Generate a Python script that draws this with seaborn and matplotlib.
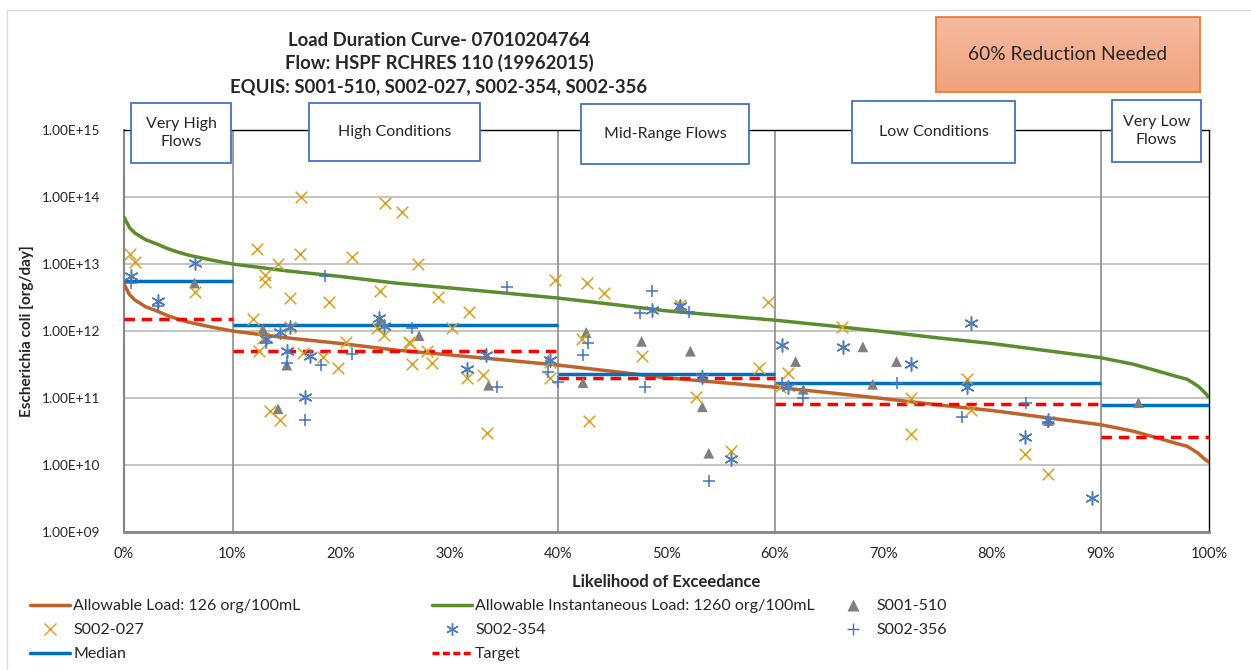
import numpy as np
import pandas as pd
import matplotlib.pyplot as plt
import seaborn as sns
from matplotlib.patches import Rectangle
from matplotlib.lines import Line2D
from matplotlib.ticker import FuncFormatter
from matplotlib.colors import LinearSegmentedColormap

# curve data (flow exceedance %, load org/day)
curve_pct = [0, 0.5, 1, 2, 3, 4, 5, 6, 8, 10, 15, 20, 25, 30, 35, 40, 45, 50, 55, 60,
             65, 70, 75, 80, 85, 90, 93, 95, 97, 98, 99, 99.5, 100]
inst_load = [5.0e13, 3.5e13, 2.9e13, 2.3e13, 2.0e13, 1.7e13, 1.5e13, 1.35e13, 1.15e13, 1.0e13,
             7.9e12, 6.5e12, 5.2e12, 4.4e12, 3.7e12, 3.1e12, 2.5e12, 2.0e12, 1.7e12, 1.45e12,
             1.2e12, 9.8e11, 7.9e11, 6.5e11, 5.1e11, 4.0e11, 3.2e11, 2.6e11, 2.1e11, 1.9e11,
             1.5e11, 1.26e11, 1.02e11]
allow_load = [5.0e12, 3.5e12, 2.9e12, 2.3e12, 2.0e12, 1.7e12, 1.5e12, 1.35e12, 1.15e12, 1.0e12,
              7.9e11, 6.5e11, 5.2e11, 4.4e11, 3.7e11, 3.1e11, 2.5e11, 2.0e11, 1.7e11, 1.45e11,
              1.2e11, 9.8e10, 7.9e10, 6.5e10, 5.1e10, 4.0e10, 3.2e10, 2.6e10, 2.1e10, 1.9e10,
              1.5e10, 1.26e10, 1.1e10]

# flow zones
zone_start = [0, 10, 40, 60, 90]
zone_end = [10, 40, 60, 90, 100]
zone_names = ["Very High\nFlows", "High Conditions", "Mid-Range Flows", "Low Conditions", "Very Low\nFlows"]
median_load = [5.6e12, 1.23e12, 2.3e11, 1.65e11, 7.9e10]
target_load = [1.5e12, 5.0e11, 2.0e11, 8.1e10, 2.6e10]

# monitoring samples
s001_510_x = [6.5, 12.8, 27.2, 15.0, 14.2, 33.6, 39.1, 23.6, 42.6, 42.3, 47.7, 52.2, 53.3, 53.9,
              51.2, 61.9, 62.6, 68.1, 69.0, 71.2, 85.2, 93.5]
s001_510_y = [5.2e12, 1.07e12, 8.5e11, 3.1e11, 6.9e10, 1.55e11, 3.7e11, 1.45e12, 9.5e11, 1.7e11,
              7.0e11, 5.0e11, 7.4e10, 1.5e10, 2.4e12, 3.5e11, 1.35e11, 5.8e11, 1.6e11, 3.5e11,
              4.6e10, 8.5e10]

s002_027_x = [0.55, 1.0, 6.5, 12.3, 16.3, 24.1, 25.6, 14.2, 16.2, 21.0, 27.1, 13.0, 13.0, 15.3,
              18.9, 23.6, 28.9, 31.8, 39.7, 11.9, 30.2, 23.3, 24.0, 26.3, 20.5, 15.3, 12.4, 12.8,
              16.5, 18.3, 19.7, 26.4, 26.5, 27.9, 28.4, 31.6, 33.1, 33.5, 13.5, 14.4, 39.3, 39.3,
              42.7, 44.2, 51.2, 59.4, 66.2, 42.2, 47.7, 42.9, 52.7, 55.9, 58.5, 61.2, 60.5,
              72.5, 72.5, 77.7, 78.1, 83.0, 85.2]
s002_027_y = [1.4e13, 1.07e13, 3.8e12, 1.66e13, 1.0e14, 8.1e13, 6.0e13, 1.0e13, 1.4e13, 1.26e13,
              1.0e13, 6.9e12, 5.4e12, 3.1e12, 2.7e12, 4.0e12, 3.2e12, 1.9e12, 5.8e12, 1.5e12,
              1.1e12, 1.1e12, 8.7e11, 6.9e11, 6.9e11, 1.15e12, 5.0e11, 7.9e11, 4.7e11, 4.1e11,
              2.8e11, 6.6e11, 3.2e11, 5.0e11, 3.3e11, 2.0e11, 2.2e11, 3.0e10, 6.5e10, 4.7e10,
              3.5e11, 2.0e11, 5.2e12, 3.7e12, 2.45e12, 2.7e12, 1.15e12, 7.6e11, 4.3e11, 4.6e10,
              1.03e11, 1.6e10, 2.8e11, 2.35e11, 1.45e11, 1.0e11, 2.9e10, 1.9e11, 6.6e10,
              1.45e10, 7.4e9]

s002_354_x = [0.65, 3.1, 6.5, 13.1, 14.4, 15.3, 23.5, 24.0, 15.0, 17.1, 16.7, 31.6, 33.4, 39.3,
              48.7, 51.2, 53.3, 55.9, 60.6, 61.2, 66.3, 72.5, 78.1, 77.7, 83.0, 89.2, 85.2]
s002_354_y = [6.6e12, 2.8e12, 1.03e13, 7.6e11, 9.8e11, 1.15e12, 1.55e12, 1.17e12, 5.0e11, 4.2e11,
              1.02e11, 2.7e11, 4.4e11, 3.7e11, 2.05e12, 2.4e12, 2.05e11, 1.25e10, 6.2e11,
              1.45e11, 5.7e11, 3.2e11, 1.3e12, 1.45e11, 2.6e10, 3.2e9, 4.7e10]

s002_356_x = [0.65, 3.1, 18.5, 35.3, 26.5, 13.1, 15.0, 18.2, 21.0, 16.7, 34.4, 39.1, 40.0, 48.7,
              47.6, 52.1, 42.3, 42.8, 48.0, 53.9, 60.6, 62.6, 71.2, 77.2, 83.1, 85.2]
s002_356_y = [5.2e12, 2.4e12, 6.6e12, 4.6e12, 1.1e12, 6.6e11, 3.3e11, 3.1e11, 4.6e11, 4.7e10,
              1.45e11, 2.45e11, 1.75e11, 4.0e12, 1.87e12, 1.9e12, 4.4e11, 6.6e11, 1.45e11, 5.8e9,
              1.65e11, 1.0e11, 1.65e11, 5.2e10, 8.5e10, 4.4e10]

W, H = 1251, 670
BROWN = "#C0622B"
GREEN = "#5B8C2E"
MEDIAN = "#0070C0"
GOLD = "#D6A11C"
STAR = "#4F7DB8"
PLUS = "#4472C4"
TRI = "#7F7F7F"


def fx(px):
    return px / W


def fy(py):
    return 1 - py / H


sns.set_style("white")
plt.rcParams["font.family"] = ["Lato", "DejaVu Sans"]

fig = plt.figure(figsize=(W / 100, H / 100), dpi=100)
ax = fig.add_axes([fx(124), fy(532), fx(1209 - 124), (532 - 130) / H])

curves = pd.DataFrame({"pct": curve_pct, "inst": inst_load, "allow": allow_load})
sns.lineplot(data=curves, x="pct", y="allow", color=BROWN, lw=2.5, ax=ax, zorder=3)
sns.lineplot(data=curves, x="pct", y="inst", color=GREEN, lw=2.5, ax=ax, zorder=3)

ax.hlines(median_load, zone_start, zone_end, color=MEDIAN, lw=2.5, zorder=4)
ax.hlines(target_load, zone_start, zone_end, color="#FF0000", lw=2.5, linestyles=(0, (3, 2)), zorder=4)

sns.scatterplot(x=s001_510_x, y=s001_510_y, marker="^", color=TRI, s=60, edgecolor="none", ax=ax, zorder=5)
sns.scatterplot(x=s002_027_x, y=s002_027_y, marker="x", color=GOLD, s=70, linewidth=1.1, ax=ax, zorder=5)
sns.scatterplot(x=s002_354_x, y=s002_354_y, marker=(6, 2, 0), color=STAR, s=90, linewidth=1.1, ax=ax, zorder=5)
sns.scatterplot(x=s002_356_x, y=s002_356_y, marker="+", color=PLUS, s=80, linewidth=1.1, ax=ax, zorder=5)

ax.set_yscale("log")
ax.set_ylim(1e9, 1e15)
ax.set_xlim(0, 100)
ax.set_yticks([1e9, 1e10, 1e11, 1e12, 1e13, 1e14, 1e15])
ax.yaxis.set_major_formatter(FuncFormatter(lambda v, p: f"{v:.2E}"))
ax.yaxis.set_minor_locator(plt.NullLocator())
ax.set_xticks(range(0, 101, 10))
ax.xaxis.set_major_formatter(FuncFormatter(lambda v, p: f"{v:.0f}%"))
ax.tick_params(axis="x", direction="out", length=5, color="#868686", width=1.2, labelsize=10.5, pad=6)
ax.tick_params(axis="y", direction="out", length=6, color="#868686", width=1.0, labelsize=9.8, pad=11)
ax.grid(axis="y", color="#BFBFBF", lw=1.3)
for xv in [10, 40, 60, 90]:
    ax.axvline(xv, color="#8C8C8C", lw=1.2, zorder=1)

for side in ["top", "right"]:
    ax.spines[side].set_color("black")
    ax.spines[side].set_linewidth(1.0)
ax.spines["left"].set_color("#868686")
ax.spines["left"].set_linewidth(1.5)
ax.spines["bottom"].set_color("#868686")
ax.spines["bottom"].set_linewidth(2)

ax.set_xlabel("Likelihood of Exceedance", fontsize=12, fontweight="bold", labelpad=9)
ax.set_ylabel("Escherichia coli [org/day]", fontsize=11, fontweight="bold", labelpad=6)

# title
for txt, yy in zip(["Load Duration Curve- 07010204764", "Flow: HSPF RCHRES 110 (19962015)",
                    "EQUIS: S001-510, S002-027, S002-354, S002-356"], [40, 63, 87]):
    fig.text(fx(439), fy(yy), txt, ha="center", va="center", fontsize=13.3, fontweight="bold")

# zone label boxes
boxes = [(131, 103, 231, 163), (309, 103, 480, 161), (581, 104, 749, 164),
         (852, 101, 1015, 163), (1112, 100, 1201, 162)]
for (x0, y0, x1, y1), name in zip(boxes, zone_names):
    fig.patches.append(Rectangle((fx(x0), fy(y1)), fx(x1 - x0), (y1 - y0) / H,
                                 transform=fig.transFigure, facecolor="white",
                                 edgecolor="#4472C4", lw=1.3, zorder=5))
    fig.text(fx((x0 + x1) / 2), fy((y0 + y1) / 2), name, ha="center", va="center",
             fontsize=11.5, linespacing=1.45, zorder=6)

# reduction box with gradient
rax = fig.add_axes([fx(936), fy(92), fx(1200 - 936), (92 - 17) / H])
grad = np.linspace(0, 1, 50).reshape(-1, 1)
cmap = LinearSegmentedColormap.from_list("g", ["#F5BBA0", "#F1A27D"])
rax.imshow(grad, aspect="auto", cmap=cmap, extent=[0, 1, 0, 1])
rax.set_xticks([])
rax.set_yticks([])
for s in rax.spines.values():
    s.set_color("#ED7D31")
    s.set_linewidth(1.3)
rax.text(0.5, 0.5, "60% Reduction Needed", ha="center", va="center", fontsize=13.8,
         transform=rax.transAxes)

# outer chart border
fig.patches.append(Rectangle((fx(7), -0.05), 1.1, fy(10) + 0.05, transform=fig.transFigure,
                             facecolor="none", edgecolor="#D9D9D9", lw=1.0, zorder=0))

# legend, three columns placed separately
leg_cols = [
    (30, [Line2D([], [], color=BROWN, lw=2.5),
          Line2D([], [], color=GOLD, marker="x", ls="none", ms=8),
          Line2D([], [], color=MEDIAN, lw=2.5)],
     ["Allowable Load: 126 org/100mL", "S002-027", "Median"]),
    (432, [Line2D([], [], color=GREEN, lw=2.5),
           Line2D([], [], color=STAR, marker=(6, 2, 0), ls="none", ms=9),
           Line2D([], [], color="#FF0000", lw=2.5, ls=(0, (2, 1)))],
     ["Allowable Instantaneous Load: 1260 org/100mL", "S002-354", "Target"]),
    (833, [Line2D([], [], color=TRI, marker="^", ls="none", ms=8, mec="none"),
           Line2D([], [], color=PLUS, marker="+", ls="none", ms=9)],
     ["S001-510", "S002-356"]),
]
for x0, hs, ls in leg_cols:
    fig.legend(hs, ls, loc="upper left", bbox_to_anchor=(fx(x0), fy(599)),
               frameon=False, fontsize=11.5, handlelength=2.5, handletextpad=0.2,
               labelspacing=0.62, borderpad=0, borderaxespad=0)

fig.savefig("out.png", dpi=100)
